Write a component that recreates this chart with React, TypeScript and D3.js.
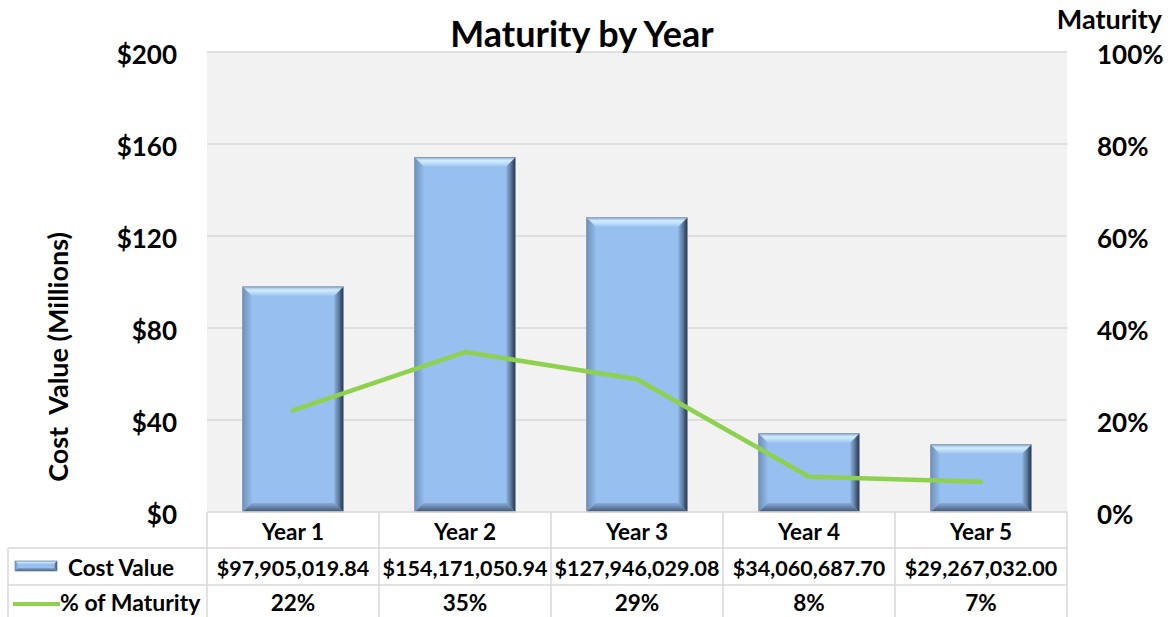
import React from "react";
import * as d3 from "d3";

const categories = ["Year 1", "Year 2", "Year 3", "Year 4", "Year 5"];
const costValues = [97905019.84, 154171050.94, 127946029.08, 34060687.7, 29267032.0];
const pctMaturity = [0.2208, 0.3477, 0.2886, 0.0768, 0.066];
const leftTicks = [0, 40, 80, 120, 160, 200];
const rightTicks = [0, 0.2, 0.4, 0.6, 0.8, 1.0];

const W = 1172;
const H = 617;
const PL = 207;
const PR = 1067;
const PT = 52;
const PB = 512;
const FONT = "Lato, 'Open Sans', sans-serif";

export default function App() {
  const x = d3.scaleBand<string>().domain(categories).range([PL, PR]);
  const y = d3.scaleLinear().domain([0, 200]).range([PB, PT]);
  const y2 = d3.scaleLinear().domain([0, 1]).range([PB, PT]);
  const fmtMoney = d3.format("$,.2f");
  const fmtPct = d3.format(".0%");
  const bw = x.bandwidth() * 0.585;
  const line = d3
    .line<number>()
    .x((_, i) => (x(categories[i]) as number) + x.bandwidth() / 2)
    .y((d) => y2(d));

  const rowTop = [512, 548, 585];
  const rowBot = [548, 585, 622];
  const gridColor = "#d9d9d9";
  const b = 9;

  const bevel = (x0: number, x1: number, y0: number, y1: number, key: string, bb: number) => (
    <g key={key}>
      <rect x={x0} y={y0} width={x1 - x0} height={y1 - y0} fill="#97bfef" />
      <polygon
        points={`${x0},${y0} ${x1},${y0} ${x1 - bb},${y0 + bb} ${x0 + bb},${y0 + bb}`}
        fill="url(#gTop)"
      />
      <polygon
        points={`${x0},${y0} ${x0 + bb},${y0 + bb} ${x0 + bb},${y1 - bb} ${x0},${y1}`}
        fill="url(#gLeft)"
      />
      <polygon
        points={`${x1},${y0} ${x1},${y1} ${x1 - bb},${y1 - bb} ${x1 - bb},${y0 + bb}`}
        fill="url(#gRight)"
      />
      <polygon
        points={`${x0},${y1} ${x1},${y1} ${x1 - bb},${y1 - bb} ${x0 + bb},${y1 - bb}`}
        fill="url(#gBottom)"
      />
      <rect x={x0} y={y0} width={x1 - x0} height={y1 - y0} fill="none" stroke="#7d8fa6" strokeWidth={0.8} />
    </g>
  );

  return (
    <svg
      width={W}
      height={H}
      style={{ position: "absolute", left: 0, top: 0, background: "#fff" }}
      fontFamily={FONT}
    >
      <defs>
        <linearGradient id="gTop" x1="0" y1="0" x2="0" y2="1">
          <stop offset="0" stopColor="#8fb0d8" />
          <stop offset="0.35" stopColor="#d2ecff" />
          <stop offset="0.6" stopColor="#c0e0fb" />
          <stop offset="1" stopColor="#9fc6f1" />
        </linearGradient>
        <linearGradient id="gLeft" x1="0" y1="0" x2="1" y2="0">
          <stop offset="0" stopColor="#6e90bb" />
          <stop offset="1" stopColor="#93bbea" />
        </linearGradient>
        <linearGradient id="gRight" x1="0" y1="0" x2="1" y2="0">
          <stop offset="0" stopColor="#8cb2e0" />
          <stop offset="0.5" stopColor="#5c7aa0" />
          <stop offset="1" stopColor="#26313f" />
        </linearGradient>
        <linearGradient id="gBottom" x1="0" y1="0" x2="0" y2="1">
          <stop offset="0" stopColor="#89acd8" />
          <stop offset="1" stopColor="#3f5573" />
        </linearGradient>
      </defs>

      {/* plot area */}
      <rect x={PL} y={PT} width={PR - PL} height={PB - PT} fill="#f2f2f2" />
      {leftTicks.map((t) =>
        t === 0 ? null : (
          <line key={t} x1={PL} x2={PR} y1={y(t)} y2={y(t)} stroke={gridColor} strokeWidth={1.5} />
        )
      )}

      {/* bars */}
      {costValues.map((v, i) => {
        const cx = (x(categories[i]) as number) + x.bandwidth() / 2;
        return bevel(cx - bw / 2, cx + bw / 2, y(v / 1e6), y(0), "b" + i, b);
      })}

      {/* line */}
      <path
        d={line(pctMaturity) || ""}
        fill="none"
        stroke="#8ed14f"
        strokeWidth={4.5}
        strokeLinejoin="round"
        strokeLinecap="round"
      />

      {/* title */}
      <text x={582} y={47} textAnchor="middle" fontSize={36} fontWeight="bold" fill="#000">
        Maturity by Year
      </text>

      {/* left axis */}
      {leftTicks.map((t) => (
        <text
          key={t}
          x={177}
          y={y(t) + 2}
          textAnchor="end"
          dominantBaseline="central"
          fontSize={26}
          fontWeight="bold"
          fill="#000"
        >
          {"$" + t}
        </text>
      ))}
      <text
        transform={`translate(57,357) rotate(-90)`}
        textAnchor="middle"
        dominantBaseline="central"
        fontSize={27}
        fontWeight="bold"
        fill="#000"
        style={{ whiteSpace: "pre" }}
      >
        {"Cost  Value (Millions)"}
      </text>

      {/* right axis */}
      {rightTicks.map((t) => (
        <text
          key={t}
          x={1097}
          y={y2(t) + 2}
          textAnchor="start"
          dominantBaseline="central"
          fontSize={26}
          fontWeight="bold"
          fill="#000"
        >
          {fmtPct(t)}
        </text>
      ))}
      <text x={1162} y={29} textAnchor="end" fontSize={27} fontWeight="bold" fill="#000">
        Maturity
      </text>

      {/* data table */}
      <g stroke={gridColor} strokeWidth={1.5}>
        <line x1={PL} x2={PR} y1={rowTop[0]} y2={rowTop[0]} />
        <line x1={8} x2={PR} y1={rowTop[1]} y2={rowTop[1]} />
        <line x1={8} x2={PR} y1={rowTop[2]} y2={rowTop[2]} />
        <line x1={8} x2={8} y1={rowTop[1]} y2={H + 5} />
        {categories.map((c) => (
          <line key={c} x1={x(c) as number} x2={x(c) as number} y1={rowTop[0]} y2={H + 5} />
        ))}
        <line x1={PR} x2={PR} y1={rowTop[0]} y2={H + 5} />
      </g>
      {categories.map((c, i) => {
        const cx = (x(c) as number) + x.bandwidth() / 2;
        return (
          <g key={c} fontSize={22.5} fontWeight="bold" fill="#000" textAnchor="middle" dominantBaseline="central">
            <text x={cx} y={(rowTop[0] + rowBot[0]) / 2 + 1}>{c}</text>
            <text x={cx} y={(rowTop[1] + rowBot[1]) / 2 + 1} fontSize={21.5}>{fmtMoney(costValues[i])}</text>
            <text x={cx} y={(rowTop[2] + 617) / 2 + 1}>{fmtPct(pctMaturity[i])}</text>
          </g>
        );
      })}
      {/* legend keys */}
      {bevel(15, 57, 561, 571, "key", 3)}
      <text x={68} y={567} fontSize={22.5} fontWeight="bold" dominantBaseline="central" fill="#000">
        Cost Value
      </text>
      <line x1={13} x2={60} y1={604} y2={604} stroke="#8ed14f" strokeWidth={4} />
      <text x={60} y={602} fontSize={23} fontWeight="bold" dominantBaseline="central" fill="#000">
        % of Maturity
      </text>
    </svg>
  );
}
